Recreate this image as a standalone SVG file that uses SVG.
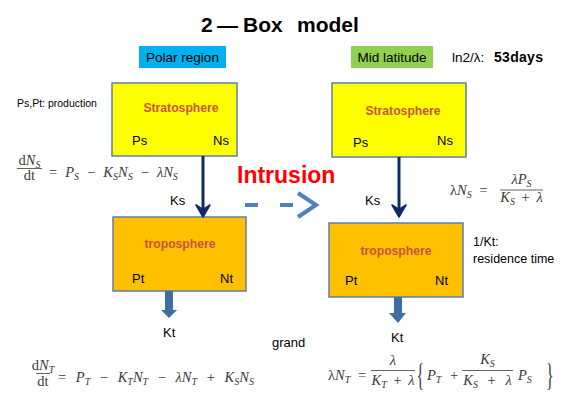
<svg xmlns="http://www.w3.org/2000/svg" width="563" height="393" viewBox="0 0 563 393">
<style>
.sans{font-family:"Liberation Sans",Arial,sans-serif;}
.box{stroke:#5b7fae;stroke-width:1.5;}
.strat{fill:#ffff00;}
.trop{fill:#ffc000;}
.lbl{font-family:"Liberation Sans",Arial,sans-serif;font-size:12.2px;font-weight:bold;fill:#c8553d;text-anchor:middle;}
.var{font-family:"Liberation Sans",Arial,sans-serif;font-size:13px;fill:#000;}
.eq{font-family:"Liberation Serif","Times New Roman",serif;font-size:14.5px;fill:#3a3a3a;font-style:italic;}
.up{font-style:normal;}
.sub{font-size:10px;}
.brace{font-size:32px;font-style:normal;}
.bar{stroke:#3a3a3a;stroke-width:0.8;}
</style>
<rect width="563" height="393" fill="#fff"/>
<text class="sans" font-size="21" font-weight="bold" y="32"><tspan x="201">2</tspan><tspan x="217">—</tspan><tspan x="243">Box</tspan><tspan x="297">model</tspan></text>
<g id="polar-label"><rect x="139" y="46" width="87" height="22" fill="#00b0f0"/><text class="sans" x="182.5" y="62" font-size="13.5" text-anchor="middle">Polar region</text></g>
<g id="mid-label"><rect x="351" y="46" width="82" height="22" fill="#92d050"/><text class="sans" x="392" y="62" font-size="13.5" text-anchor="middle">Mid latitude</text></g>
<text class="sans" x="452" y="62" font-size="13.5">ln2/λ:</text>
<text class="sans" x="494" y="62" font-size="14" font-weight="bold" letter-spacing="0.3">53days</text>
<text class="sans" x="17" y="107" font-size="10.5">Ps,Pt: production</text>
<g id="polar-strat"><rect class="box strat" x="112" y="83" width="125" height="73"/><text class="lbl" x="181" y="112">Stratosphere</text><text class="var" x="132" y="145">Ps</text><text class="var" x="213" y="145">Ns</text></g>
<g id="polar-trop"><rect class="box trop" x="113" y="217" width="133" height="74"/><text class="lbl" x="180" y="248">troposphere</text><text class="var" x="132" y="283">Pt</text><text class="var" x="220" y="283">Nt</text></g>
<g id="mid-strat"><rect class="box strat" x="332" y="83" width="134" height="74"/><text class="lbl" x="403" y="115">Stratosphere</text><text class="var" x="353" y="147">Ps</text><text class="var" x="437" y="145">Ns</text></g>
<g id="mid-trop"><rect class="box trop" x="329" y="223" width="134" height="74"/><text class="lbl" x="396" y="255">troposphere</text><text class="var" x="345" y="285">Pt</text><text class="var" x="435" y="285">Nt</text></g>
<g id="connectors">
<line x1="203" y1="156" x2="203" y2="212" stroke="#0f2a6b" stroke-width="3"/>
<path d="M203,217 L196,205 L203,209.5 L210,205 Z" fill="#0f2a6b" stroke="#0f2a6b" stroke-width="1.5" stroke-linejoin="round"/>
<line x1="399" y1="157" x2="399" y2="212" stroke="#0f2a6b" stroke-width="3"/>
<path d="M399,217 L392,205 L399,209.5 L406,205 Z" fill="#0f2a6b" stroke="#0f2a6b" stroke-width="1.5" stroke-linejoin="round"/>
<path d="M165,291 H173 V310 H177 L169,318 L161,310 H165 Z" fill="#3f6ea6"/>
<path d="M394,297 H402 V313 H406 L398,323 L389,313 H394 Z" fill="#3f6ea6"/>
<line x1="245" y1="205" x2="313" y2="205" stroke="#4f81bd" stroke-width="4" stroke-dasharray="13 22"/>
<polyline points="298,193 316,205 298,217" fill="none" stroke="#4f81bd" stroke-width="4"/>
</g>
<text class="sans" x="237" y="183" font-size="23" font-weight="bold" fill="#ff0000">Intrusion</text>
<text class="var" x="170" y="205">Ks</text>
<text class="var" x="365" y="205">Ks</text>
<text class="var" x="163" y="337">Kt</text>
<text class="var" x="391" y="342">Kt</text>
<text class="var" x="272" y="347">grand</text>
<text class="sans" x="473" y="246" font-size="12.5">1/Kt:</text>
<text class="sans" x="473" y="263" font-size="12.5">residence time</text>
<g id="eq1">
<text class="eq" x="29.5" y="165" text-anchor="middle"><tspan class="up">d</tspan>N<tspan class="sub" dy="3">S</tspan></text>
<line class="bar" x1="17" y1="168.5" x2="42" y2="168.5"/>
<text class="eq up" x="29.5" y="180" text-anchor="middle">dt</text>
<text class="eq" x="49" y="177" xml:space="preserve" word-spacing="4.4"><tspan class="up">= </tspan>P<tspan class="sub" dy="3">S</tspan><tspan class="up" dy="-3"> − </tspan>K<tspan class="sub" dy="3">S</tspan><tspan dy="-3">N</tspan><tspan class="sub" dy="3">S</tspan><tspan class="up" dy="-3"> − </tspan>λN<tspan class="sub" dy="3">S</tspan></text>
</g>
<g id="eq2">
<text class="eq" x="450" y="195" xml:space="preserve" word-spacing="4"><tspan class="up">λ</tspan>N<tspan class="sub" dy="3">S</tspan><tspan class="up" dy="-3"> =</tspan></text>
<text class="eq" x="521.5" y="184" text-anchor="middle">λP<tspan class="sub" dy="3">S</tspan></text>
<line class="bar" x1="500" y1="190" x2="543" y2="190"/>
<text class="eq" x="521.5" y="202" text-anchor="middle" xml:space="preserve" word-spacing="3">K<tspan class="sub" dy="3">S</tspan><tspan class="up" dy="-3"> + </tspan>λ</text>
</g>
<g id="eq3">
<text class="eq" x="43" y="370" text-anchor="middle"><tspan class="up">d</tspan>N<tspan class="sub" dy="3">T</tspan></text>
<line class="bar" x1="36" y1="373.5" x2="50" y2="373.5"/>
<text class="eq up" x="43" y="386" text-anchor="middle">dt</text>
<text class="eq" x="58" y="382" xml:space="preserve" word-spacing="6"><tspan class="up">= </tspan>P<tspan class="sub" dy="3">T</tspan><tspan class="up" dy="-3"> − </tspan>K<tspan class="sub" dy="3">T</tspan><tspan dy="-3">N</tspan><tspan class="sub" dy="3">T</tspan><tspan class="up" dy="-3"> − </tspan>λN<tspan class="sub" dy="3">T</tspan><tspan class="up" dy="-3"> + </tspan>K<tspan class="sub" dy="3">S</tspan><tspan dy="-3">N</tspan><tspan class="sub" dy="3">S</tspan></text>
</g>
<g id="eq4">
<text class="eq" x="328" y="380" xml:space="preserve" word-spacing="4"><tspan class="up">λ</tspan>N<tspan class="sub" dy="3">T</tspan><tspan class="up" dy="-3"> =</tspan></text>
<text class="eq" x="393" y="365" text-anchor="middle">λ</text>
<line class="bar" x1="371" y1="370.5" x2="415" y2="370.5"/>
<text class="eq" x="393" y="385" text-anchor="middle" xml:space="preserve" word-spacing="3">K<tspan class="sub" dy="3">T</tspan><tspan class="up" dy="-3"> + </tspan>λ</text>
<text class="eq brace" transform="translate(416.5,386) scale(0.5,1)">{</text>
<text class="eq" x="427" y="380" xml:space="preserve" word-spacing="5">P<tspan class="sub" dy="3">T</tspan><tspan class="up" dy="-3"> +</tspan></text>
<text class="eq" x="487.5" y="364" text-anchor="middle">K<tspan class="sub" dy="3">S</tspan></text>
<line class="bar" x1="462" y1="370.5" x2="513" y2="370.5"/>
<text class="eq" x="487.5" y="385" text-anchor="middle" xml:space="preserve" word-spacing="6">K<tspan class="sub" dy="3">S</tspan><tspan class="up" dy="-3"> + </tspan>λ</text>
<text class="eq" x="518" y="380">P<tspan class="sub" dy="3">S</tspan></text>
<text class="eq brace" transform="translate(546,386) scale(0.5,1)">}</text>
</g>
</svg>
